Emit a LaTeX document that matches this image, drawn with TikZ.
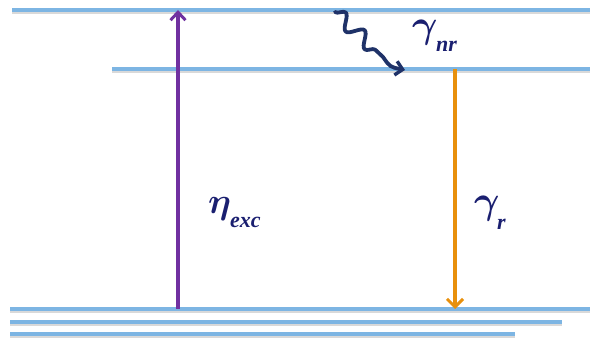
\RequirePackage{fix-cm}
\documentclass[tikz,border=0pt]{standalone}
\usepackage{fontspec}
\setmainfont{Liberation Serif}
\usetikzlibrary{arrows.meta,decorations.pathmorphing}
\definecolor{lvl}{HTML}{7DB5E3}
\definecolor{exc}{HTML}{7030A0}
\definecolor{rad}{HTML}{E8900C}
\definecolor{navy}{HTML}{1A1F70}
\definecolor{wav}{HTML}{1F3268}
\tikzset{
  level/.style={draw=lvl,line width=3.8pt},
  shade/.style={draw=black!50,line width=3pt,opacity=0.3},
  lab/.style={text=navy,inner sep=0pt},
  big/.style={lab,anchor=base west,font=\boldmath\fontsize{36}{36}\selectfont},
  gam/.style={lab,anchor=base west,font=\boldmath\fontsize{39}{39}\selectfont},
  sub/.style={lab,anchor=base west,font=\bfseries\itshape\fontsize{22}{22}\selectfont},
}
\begin{document}
\begin{tikzpicture}[x=1pt,y=-1pt]
\useasboundingbox (0,0) rectangle (590,342);
% level endpoints
\coordinate (t0) at (12,10);   \coordinate (t1) at (590,10);
\coordinate (m0) at (112,69);  \coordinate (m1) at (590,69);
\coordinate (b0) at (10,309);  \coordinate (b1) at (590,309);
\coordinate (c0) at (10,322);  \coordinate (c1) at (562,322);
\coordinate (d0) at (10,334);  \coordinate (d1) at (515,334);
% shadows
\foreach \a/\b in {t0/t1,m0/m1,b0/b1,c0/c1,d0/d1}
  \draw[shade] ([yshift=-2.2pt]\a) -- ([yshift=-2.2pt]\b);
% levels
\foreach \a/\b in {t0/t1,m0/m1,b0/b1,c0/c1,d0/d1}
  \draw[level] (\a) -- (\b);
% arrows
\coordinate (ea) at (178,309); \coordinate (eb) at (178,10);
\draw[exc,line width=3.2pt,-{Straight Barb[length=8pt,width=15pt,line width=3pt]}] (ea) -- (eb);
\coordinate (ra) at (455,69); \coordinate (rb) at (455,309);
\draw[rad,line width=3.2pt,-{Straight Barb[length=8pt,width=16pt,line width=3pt]}] (ra) -- (rb);
\coordinate (wa) at (335,12); \coordinate (wm) at (383,57); \coordinate (wb) at (405,70);
\draw[wav,line width=3.8pt,line cap=round,line join=round,
  -{Straight Barb[length=7pt,width=14pt,line width=3.4pt]}]
  (wa) decorate[decoration={snake,segment length=26pt,amplitude=7pt}]{-- (wm)}
  .. controls (390,67) .. (wb);
% labels
\node[big] (eta) at (208,214) {$\eta$};
\node[sub] (exc) at (230,228) {exc};
\node[gam] (gr) at (474,214) {$\gamma$};
\node[sub] (rr) at (497,230) {r};
\node[gam] (gn) at (412,38) {$\gamma$};
\node[sub] (nr) at (436,52) {nr};
\end{tikzpicture}
\end{document}
